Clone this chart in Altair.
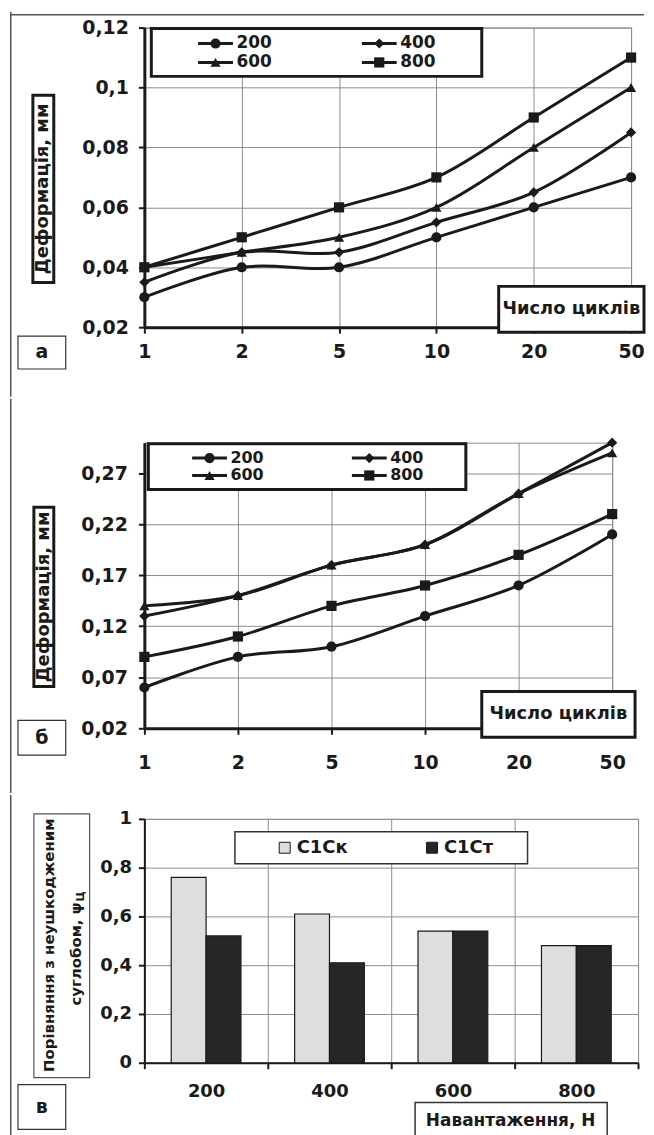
import altair as alt
import pandas as pd

# ---------------- data ----------------
cycles = ["1", "2", "5", "10", "20", "50"]
loads = ["200", "400", "600", "800"]

a_200 = [0.03, 0.04, 0.04, 0.05, 0.06, 0.07]
a_400 = [0.035, 0.045, 0.045, 0.055, 0.065, 0.085]
a_600 = [0.04, 0.045, 0.05, 0.06, 0.08, 0.10]
a_800 = [0.04, 0.05, 0.06, 0.07, 0.09, 0.11]
a_ticks = [0.02, 0.04, 0.06, 0.08, 0.10, 0.12]

b_200 = [0.06, 0.09, 0.10, 0.13, 0.16, 0.21]
b_400 = [0.13, 0.15, 0.18, 0.20, 0.25, 0.30]
b_600 = [0.14, 0.15, 0.18, 0.20, 0.25, 0.29]
b_800 = [0.09, 0.11, 0.14, 0.16, 0.19, 0.23]
b_ticks = [0.02, 0.07, 0.12, 0.17, 0.22, 0.27]

bar_groups = ["С1Ск", "С1Ст"]
c_sk = [0.76, 0.61, 0.54, 0.48]
c_st = [0.52, 0.41, 0.54, 0.48]
c_ticks = [0, 0.2, 0.4, 0.6, 0.8, 1.0]


def long_df(series_lists):
    rows = []
    for load, vals in zip(loads, series_lists):
        for c, v in zip(cycles, vals):
            rows.append({"cycles": c, "series": load, "value": v})
    return pd.DataFrame(rows)


df_a = long_df([a_200, a_400, a_600, a_800])
df_b = long_df([b_200, b_400, b_600, b_800])
df_c = pd.DataFrame({
    "load": loads * 2,
    "group": [g for g in bar_groups for _ in loads],
    "value": c_sk + c_st,
})

# ---------------- style ----------------
FONT = "DejaVu Sans"
INK = "#1a1a1a"
GRID = "#8c8c8c"
FRAME = "#555555"
MSIZE = 105
LW = 3
one = alt.Data(values=[{}])

shape_scale = alt.Scale(domain=loads, range=["circle", "diamond", "triangle-up", "square"])
fill_scale = alt.Scale(domain=bar_groups, range=["#dedede", "#262626"])


def comma_expr(fmt):
    return f"replace(format(datum.value, '{fmt}'), '.', ',')"


def x_axis(pad, size=19, dw=3, **kw):
    return alt.Axis(title=None, labelAngle=0, labelFont=FONT, labelFontSize=size,
                    labelFontWeight="bold", labelColor=INK, labelPadding=pad,
                    tickSize=6, tickWidth=2, tickColor=INK, domainWidth=dw,
                    domainColor=INK, grid=True, gridColor=GRID, gridWidth=1,
                    labelOverlap=False, **kw)


def y_axis(values, fmt, pad, size=19, dw=3):
    return alt.Axis(title=None, values=values, labelExpr=comma_expr(fmt), labelFont=FONT,
                    labelFontSize=size, labelFontWeight="bold", labelColor=INK,
                    labelPadding=pad, tickSize=6, tickWidth=2, tickColor=INK,
                    domainWidth=dw, domainColor=INK, grid=True, gridColor=GRID,
                    gridWidth=1, labelOverlap=False)


def box(x1, y1, x2, y2, sw=3, stroke=INK):
    return alt.Chart(one).mark_rect(fill="white", stroke=stroke, strokeWidth=sw).encode(
        x=alt.value(x1), x2=alt.value(x2), y=alt.value(y1), y2=alt.value(y2))


def solid(x1, y1, x2, y2, color=FRAME, opacity=1):
    return alt.Chart(one).mark_rect(fill=color, opacity=opacity).encode(
        x=alt.value(x1), x2=alt.value(x2), y=alt.value(y1), y2=alt.value(y2))


def label(text, x, y, size=19, angle=0, align="center", baseline="middle", font=FONT):
    return alt.Chart(one).mark_text(text=text, font=font, fontSize=size, fontWeight="bold",
                                    color=INK, angle=angle, align=align,
                                    baseline=baseline).encode(x=alt.value(x), y=alt.value(y))


def line_legend(x0, dx, y0, dy, half, tgap, fsize):
    base = (alt.Chart(pd.DataFrame({"series": loads}))
            .transform_window(k="row_number()")
            .transform_calculate(col="(datum.k - 1) % 2", row="floor((datum.k - 1) / 2)")
            .transform_calculate(cx=f"{x0} + datum.col * {dx}", cy=f"{y0} + datum.row * {dy}")
            .transform_calculate(lx1=f"datum.cx - {half}", lx2=f"datum.cx + {half}",
                                 tx=f"datum.cx + {tgap}"))
    ycy = alt.Y("cy:Q", scale=None, axis=None)
    seg = base.mark_rule(color=INK, strokeWidth=LW).encode(
        x=alt.X("lx1:Q", scale=None, axis=None), x2="lx2:Q", y=ycy)
    sym = base.mark_point(filled=True, color=INK, size=MSIZE, opacity=1).encode(
        x=alt.X("cx:Q", scale=None, axis=None), y=ycy,
        shape=alt.Shape("series:N", scale=shape_scale, legend=None))
    txt = base.mark_text(align="left", baseline="middle", font=FONT, fontSize=fsize,
                         fontWeight="bold", color=INK).encode(
        x=alt.X("tx:Q", scale=None, axis=None), y=ycy, text="series:N")
    return [seg, sym, txt]


def line_panel(df, ydom, ticks, w, h, xpad, ypad, legend_box, legend_args,
               ytitle_box, ytitle_c, xt_box, xt_c, tag, tag_box, tag_c,
               top_pin, bot_pin, top_frame):
    x = alt.X("cycles:N", sort=cycles, scale=alt.Scale(type="point", padding=0),
              axis=x_axis(xpad))
    y = alt.Y("value:Q", scale=alt.Scale(domain=ydom, zero=False, nice=False),
              axis=y_axis(ticks, ".2~f", ypad))
    lines = alt.Chart(df).mark_line(color=INK, strokeWidth=LW,
                                    interpolate="catmull-rom").encode(
        x=x, y=y, detail="series:N")
    pts = alt.Chart(df).mark_point(filled=True, color=INK, size=MSIZE, opacity=1).encode(
        x=x, y=y, shape=alt.Shape("series:N", scale=shape_scale, legend=None))
    layers = [lines, pts,
              box(*legend_box), *line_legend(*legend_args),
              box(*ytitle_box), label("Деформація, мм", *ytitle_c, size=18, angle=270),
              box(*xt_box), label("Число циклів", *xt_c, size=18),
              box(*tag_box, sw=1.2, stroke="#333333"), label(tag, *tag_c, size=19),
              solid(-135, top_pin, -133.5, bot_pin),
              solid(-136, top_pin, -135, bot_pin, opacity=0)]
    if top_frame is not None:
        layers.append(solid(-135, top_frame, w + 13, top_frame + 1.5))
    return alt.layer(*layers).properties(width=w, height=h)


# ---------------- panel а ----------------
WA, HA = 489, 301
panel_a = line_panel(
    df_a, [0.02, 0.12], a_ticks, WA, HA, 9, 10,
    legend_box=(7, 1, 339, 49),
    legend_args=(71.5, 164.5, 16, 19, 17.5, 21, 17),
    ytitle_box=(-112, 68, -91, 256), ytitle_c=(-101.5, 162),
    xt_box=(356, 260, 502, 306), xt_c=(429, 283),
    tag="а", tag_box=(-127, 310, -79, 343), tag_c=(-103, 326),
    top_pin=-16, bot_pin=371, top_frame=-13.75,
)

# ---------------- panel б ----------------
WB, HB = 470, 287
panel_b = line_panel(
    df_b, [0.02, 0.30], b_ticks, WB, HB, 19, 11,
    legend_box=(4, 1, 323, 47),
    legend_args=(65.5, 160.5, 15.5, 17.5, 17.5, 21, 16),
    ytitle_box=(-111, 65, -91, 245), ytitle_c=(-101, 155),
    xt_box=(339, 250, 493, 296), xt_c=(416, 273),
    tag="б", tag_box=(-127, 279, -79, 314), tag_c=(-103, 296.5),
    top_pin=-44, bot_pin=352, top_frame=None,
)

# ---------------- panel в ----------------
WC, HC = 496, 245
bars = alt.Chart(df_c).mark_bar(stroke=INK, strokeWidth=1.2).encode(
    x=alt.X("load:N", sort=loads, scale=alt.Scale(paddingInner=0, paddingOuter=0),
            axis=x_axis(14, size=18, dw=2, tickBand="extent")),
    xOffset=alt.XOffset("group:N", sort=bar_groups,
                        scale=alt.Scale(paddingOuter=0.77, paddingInner=0)),
    y=alt.Y("value:Q", scale=alt.Scale(domain=[0, 1], nice=False),
            axis=y_axis(c_ticks, ".1~f", 7, size=18, dw=2)),
    fill=alt.Fill("group:N", scale=fill_scale, legend=None),
)

c_leg = (alt.Chart(pd.DataFrame({"group": bar_groups}))
         .transform_window(k="row_number()")
         .transform_calculate(cx="141 + (datum.k - 1) * 148", cy="29")
         .transform_calculate(tx="datum.cx + 12"))
c_sq = c_leg.mark_square(size=121, stroke=INK, strokeWidth=1, opacity=1).encode(
    x=alt.X("cx:Q", scale=None, axis=None), y=alt.Y("cy:Q", scale=None, axis=None),
    fill=alt.Fill("group:N", scale=fill_scale, legend=None))
c_tx = c_leg.mark_text(align="left", baseline="middle", font=FONT, fontSize=18,
                       fontWeight="bold", color=INK).encode(
    x=alt.X("tx:Q", scale=None, axis=None), y=alt.Y("cy:Q", scale=None, axis=None),
    text="group:N")

panel_c = alt.layer(
    bars,
    box(91, 13, 385, 45, sw=1.5, stroke="#333333"), c_sq, c_tx,
    box(-111, -5, -55, 260, sw=1.2, stroke="#555555"),
    label("Порівняння з неушкодженим", -96, 127, size=15, angle=270),
    label("суглобом, ψ", -69, 84, size=15, angle=270, align="right"),
    label("Ц", -64, 83, size=11, angle=270, align="left"),
    box(272, 285, 465, 330, sw=1.5, stroke="#333333"),
    label("Навантаження, Н", 368, 304, size=17),
    box(-127, 267, -79, 312, sw=1.2, stroke="#333333"), label("в", -103, 289.5, size=19),
    solid(-135, -24, -133.5, 330),
    solid(-136, -24, -135, 330, opacity=0),
).properties(width=WC, height=HC)

chart = alt.vconcat(panel_a, panel_b, panel_c, spacing=0).properties(
    padding=0, background="white"
).configure_view(stroke=GRID, strokeWidth=1)

chart.save("out.html", embed_options={"renderer": "svg", "actions": False})
